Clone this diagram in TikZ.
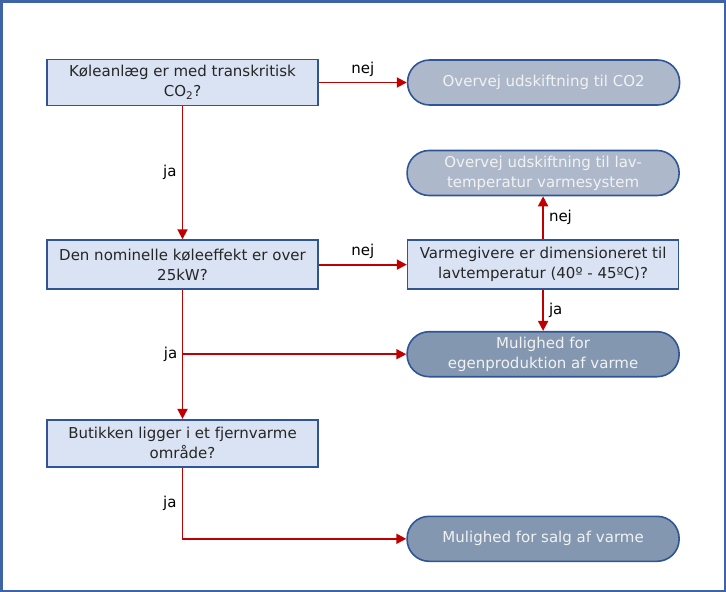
\documentclass[tikz,border=0pt]{standalone}
\usepackage{fontspec}
\setmainfont{DejaVu Sans}
\usetikzlibrary{positioning, arrows.meta}

\definecolor{framecol}{HTML}{3C64A6}
\definecolor{boxfill}{HTML}{DAE3F3}
\definecolor{boxline}{HTML}{2F5597}
\definecolor{lightres}{HTML}{ADB9CA}
\definecolor{darkres}{HTML}{8497B0}
\definecolor{arrowred}{HTML}{C00000}

\begin{document}
\begin{tikzpicture}[x=1pt, y=-1pt, node distance=90pt, >={Triangle[length=10pt,width=10pt]},
    font=\fontsize{15}{20}\selectfont]

    % Define the styles for the nodes
    \tikzstyle{question} = [rectangle, draw=boxline, line width=1.6pt, fill=boxfill, text=black!85, align=center, minimum width=271pt, minimum height=46pt, inner sep=2pt]
    \tikzstyle{result} = [rectangle, rounded corners=22pt, draw=boxline, line width=1.6pt, text=white!95!black, align=center, minimum width=272pt, minimum height=45pt, inner sep=2pt]
    \tikzstyle{flow} = [->, arrowred, line width=1.8pt]
    \tikzstyle{answer} = [text=black, inner sep=5pt]

    % Frame
    \useasboundingbox (0,0) rectangle (726,592);
    \draw[framecol, line width=2.5pt] (1.25,1.25) rectangle (724.75,590.75);

    % Nodes
    \node (quest1) [question] at (182.5,82.5) {Køleanlæg er med transkritisk\\CO\textsubscript{2}?};
    \node (res1) [result, fill=lightres, right=88pt of quest1] {Overvej udskiftning til CO2};
    \node (quest2) [question, minimum height=49pt, below=133pt of quest1] {Den nominelle køleeffekt er over\\25kW?};
    \node (quest3) [question, minimum height=49pt, right=88pt of quest2] {Varmegivere er dimensioneret til\\lavtemperatur (40º - 45ºC)?};
    \node (res2) [result, fill=lightres, above=43pt of quest3] {Overvej udskiftning til lav-\\temperatur varmesystem};
    \node (res3) [result, fill=darkres, below=41pt of quest3] {Mulighed for\\egenproduktion af varme};
    \node (quest4) [question, minimum height=47pt, below=129pt of quest2] {Butikken ligger i et fjernvarme\\område?};
    \node (res4) [result, fill=darkres, below=138pt of res3] {Mulighed for salg af varme};

    \coordinate (split) at (quest2.south |- res3.west);

    % Arrows
    \draw[flow] (quest1) -- node[answer, above] {nej} (res1);
    \draw[flow] (quest1) -- node[answer, left] {ja} (quest2);
    \draw[flow] (quest2.east) -- node[answer, above] {nej} (quest3.west);
    \draw[flow] (quest3) -- node[answer, right] {nej} (res2);
    \draw[flow] (quest3) -- node[answer, right] {ja} (res3);
    \draw[flow] (quest2) -- (quest4);
    \node[answer, left] at (split) {ja};
    \draw[flow] (split) -- (res3);
    \draw[flow] (quest4) |- node[answer, left, pos=0.25] {ja} (res4);

\end{tikzpicture}
\end{document}
